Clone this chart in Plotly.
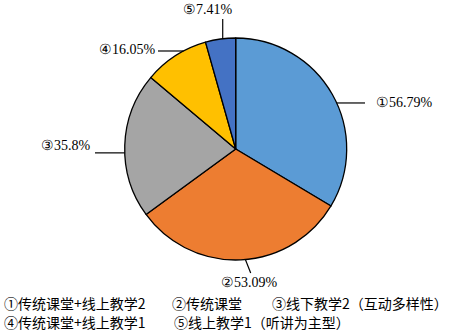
import math
import plotly.graph_objects as go

labels = ["①传统课堂+线上教学2", "②传统课堂", "③线下教学2（互动多样性）",
          "④传统课堂+线上教学1", "⑤线上教学1（听讲为主型）"]
values = [56.79, 53.09, 35.8, 16.05, 7.41]
short = ["①", "②", "③", "④", "⑤"]
colors = ["#5B9BD5", "#ED7D31", "#A5A5A5", "#FFC000", "#4472C4"]

W, H = 457, 331
cx, cy, R = 235.7, 149.0, 111.0

def px(x):
    return x / W

def py(y):
    return 1 - y / H

fig = go.Figure()
fig.add_trace(go.Pie(
    labels=labels, values=values, sort=False, direction="clockwise", rotation=0,
    marker=dict(colors=colors, line=dict(color="black", width=1.3)),
    textinfo="none", hoverinfo="label+value", showlegend=False,
    domain=dict(x=[px(cx - R), px(cx + R)], y=[py(cy + R), py(cy - R)]),
))

# leader line layout: (angle on rim clockwise from top, line end px, text anchor px, xanchor)
leader = [
    (65.5, (365, 102), (374, 102), "left"),
    (175.0, (250.7, 273), (250, 282), "center"),
    (268.0, (95, 145), (93, 145), "right"),
    (332.0, (158, 50), (158, 50), "right"),
    (353.3, (222.7, 19), (208, 10), "center"),
]

shapes = []
annotations = []
for i, (ang, end, tpos, xa) in enumerate(leader):
    a = math.radians(ang)
    sx = cx + R * math.sin(a)
    sy = cy - R * math.cos(a)
    ex, ey = end
    if i in (0, 2, 3):
        ey = sy
    shapes.append(dict(type="line", xref="paper", yref="paper",
                       x0=px(sx), y0=py(sy), x1=px(ex), y1=py(ey),
                       line=dict(color="black", width=1.2)))
    txt = f"{short[i]}{values[i]:g}%"
    annotations.append(dict(xref="paper", yref="paper", x=px(tpos[0]), y=py(tpos[1]),
                            text=txt, showarrow=False, xanchor=xa, yanchor="middle",
                            font=dict(family="Liberation Serif", size=14, color="black")))

legend_pos = [(2, 303), (170, 303), (270, 303), (2, 322), (172, 322)]
for lab, (lx, ly) in zip(labels, legend_pos):
    annotations.append(dict(xref="paper", yref="paper", x=px(lx), y=py(ly),
                            text=lab, showarrow=False, xanchor="left", yanchor="middle",
                            font=dict(family="Noto Sans CJK SC", size=14, color="black")))

fig.update_layout(width=W, height=H, margin=dict(l=0, r=0, t=0, b=0),
                  paper_bgcolor="white", plot_bgcolor="white",
                  shapes=shapes, annotations=annotations)
fig.write_html("out.html")
